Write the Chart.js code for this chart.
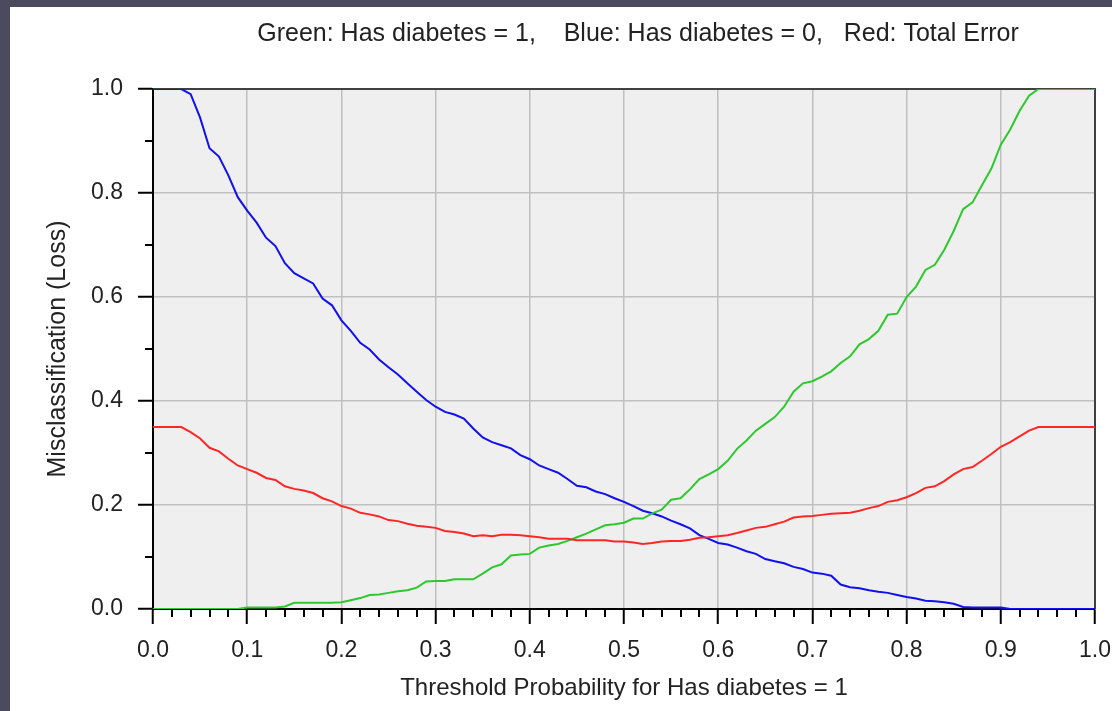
<!DOCTYPE html>
<html>
<head>
<meta charset="utf-8">
<script src="https://cdn.jsdelivr.net/npm/chart.js@4/dist/chart.umd.min.js"></script>
<style>
  html, body { margin: 0; padding: 0; background: #4b4b5d; }
  #wrap { position: absolute; left: 10px; top: 7px; width: 1102px; height: 704px; background: #ffffff; }
</style>
</head>
<body>
<div id="wrap"><canvas id="chart" width="1102" height="704"></canvas></div>
<script>
const thresholds = [
  0.00, 0.01, 0.02, 0.03, 0.04, 0.05, 0.06, 0.07, 0.08, 0.09,
  0.10, 0.11, 0.12, 0.13, 0.14, 0.15, 0.16, 0.17, 0.18, 0.19,
  0.20, 0.21, 0.22, 0.23, 0.24, 0.25, 0.26, 0.27, 0.28, 0.29,
  0.30, 0.31, 0.32, 0.33, 0.34, 0.35, 0.36, 0.37, 0.38, 0.39,
  0.40, 0.41, 0.42, 0.43, 0.44, 0.45, 0.46, 0.47, 0.48, 0.49,
  0.50, 0.51, 0.52, 0.53, 0.54, 0.55, 0.56, 0.57, 0.58, 0.59,
  0.60, 0.61, 0.62, 0.63, 0.64, 0.65, 0.66, 0.67, 0.68, 0.69,
  0.70, 0.71, 0.72, 0.73, 0.74, 0.75, 0.76, 0.77, 0.78, 0.79,
  0.80, 0.81, 0.82, 0.83, 0.84, 0.85, 0.86, 0.87, 0.88, 0.89,
  0.90, 0.91, 0.92, 0.93, 0.94, 0.95, 0.96, 0.97, 0.98, 0.99,
  1.00
];

// misclassification of Has diabetes = 1
const greenLoss = [
  0, 0, 0, 0, 0, 0, 0, 0, 0, 0,
  0.003, 0.003, 0.003, 0.003, 0.005, 0.012, 0.012, 0.012, 0.012, 0.012,
  0.013, 0.017, 0.021, 0.027, 0.028, 0.031, 0.034, 0.036, 0.041, 0.053,
  0.054, 0.054, 0.057, 0.057, 0.057, 0.068, 0.080, 0.086, 0.103, 0.105,
  0.106, 0.118, 0.122, 0.125, 0.131, 0.138, 0.145, 0.153, 0.161, 0.163,
  0.166, 0.174, 0.174, 0.184, 0.191, 0.210, 0.213, 0.230, 0.250, 0.259,
  0.269, 0.285, 0.308, 0.324, 0.343, 0.356, 0.369, 0.389, 0.418, 0.434,
  0.438, 0.447, 0.457, 0.473, 0.486, 0.509, 0.519, 0.535, 0.566, 0.568,
  0.600, 0.620, 0.652, 0.662, 0.691, 0.727, 0.769, 0.782, 0.815, 0.847,
  0.893, 0.922, 0.958, 0.987, 1, 1, 1, 1, 1, 1,
  1
];

// misclassification of Has diabetes = 0
const blueLoss = [
  1, 1, 1, 1, 0.990, 0.945, 0.886, 0.870, 0.834, 0.792,
  0.766, 0.743, 0.714, 0.698, 0.665, 0.646, 0.636, 0.626, 0.597, 0.584,
  0.555, 0.535, 0.512, 0.499, 0.480, 0.465, 0.451, 0.434, 0.418, 0.402,
  0.389, 0.379, 0.374, 0.366, 0.347, 0.330, 0.321, 0.315, 0.309, 0.296,
  0.288, 0.276, 0.269, 0.262, 0.250, 0.237, 0.234, 0.226, 0.221, 0.213,
  0.206, 0.198, 0.189, 0.184, 0.178, 0.170, 0.163, 0.155, 0.142, 0.135,
  0.127, 0.124, 0.118, 0.111, 0.106, 0.096, 0.092, 0.088, 0.081, 0.077,
  0.070, 0.068, 0.064, 0.047, 0.042, 0.040, 0.036, 0.033, 0.031, 0.027,
  0.023, 0.020, 0.016, 0.015, 0.013, 0.010, 0.004, 0.003, 0.003, 0.003,
  0.003, 0, 0, 0, 0, 0, 0, 0, 0, 0,
  0
];

// total error
const redLoss = [
  0.350, 0.350, 0.350, 0.350, 0.340, 0.328, 0.310, 0.303, 0.289, 0.276,
  0.269, 0.262, 0.252, 0.248, 0.236, 0.231, 0.228, 0.223, 0.213, 0.207,
  0.198, 0.193, 0.185, 0.182, 0.178, 0.171, 0.169, 0.164, 0.160, 0.158,
  0.156, 0.150, 0.148, 0.145, 0.140, 0.142, 0.140, 0.143, 0.143, 0.142,
  0.140, 0.138, 0.135, 0.135, 0.135, 0.132, 0.132, 0.132, 0.132, 0.130,
  0.130, 0.128, 0.125, 0.127, 0.130, 0.131, 0.131, 0.133, 0.137, 0.138,
  0.140, 0.142, 0.146, 0.151, 0.156, 0.158, 0.163, 0.168, 0.176, 0.178,
  0.179, 0.181, 0.183, 0.184, 0.185, 0.189, 0.194, 0.198, 0.206, 0.209,
  0.215, 0.223, 0.233, 0.236, 0.246, 0.259, 0.269, 0.273, 0.285, 0.298,
  0.312, 0.321, 0.332, 0.343, 0.350, 0.350, 0.350, 0.350, 0.350, 0.350,
  0.350
];

const titleText = "Green: Has diabetes = 1,    Blue: Has diabetes = 0,   Red: Total Error";
const xTitle = "Threshold Probability for Has diabetes = 1";
const yTitle = "Misclassification (Loss)";

const FONT = "'Liberation Sans', Arial, sans-serif";

function toPoints(values) {
  return thresholds.map((t, i) => ({ x: t, y: values[i] }));
}

// plot background, frame, minor ticks and the title line
const framePlugin = {
  id: "frame",
  beforeDraw(chart) {
    const { ctx, chartArea: a } = chart;
    ctx.save();
    ctx.fillStyle = "#ffffff";
    ctx.fillRect(0, 0, chart.width, chart.height);
    ctx.fillStyle = "#efefef";
    ctx.fillRect(a.left, a.top, a.right - a.left, a.bottom - a.top);
    ctx.restore();
  },
  beforeDatasetsDraw(chart) {
    const { ctx, chartArea: a, scales } = chart;
    ctx.save();
    ctx.strokeStyle = "#404040";
    ctx.lineWidth = 2;
    ctx.beginPath();
    ctx.moveTo(a.left, a.top);
    ctx.lineTo(a.right, a.top);
    ctx.lineTo(a.right, a.bottom);
    ctx.stroke();

    ctx.strokeStyle = "#000000";
    ctx.lineWidth = 2;
    ctx.beginPath();
    for (let k = 1; k < 50; k++) {
      if (k % 5 === 0) continue;
      const px = Math.round(scales.x.getPixelForValue(k / 50));
      ctx.moveTo(px, a.bottom);
      ctx.lineTo(px, a.bottom + 8);
    }
    for (let k = 1; k < 10; k += 2) {
      const py = Math.round(scales.y.getPixelForValue(k / 10));
      ctx.moveTo(a.left, py);
      ctx.lineTo(a.left - 8, py);
    }
    ctx.stroke();

    ctx.fillStyle = "#222222";
    ctx.font = "25px " + FONT;
    ctx.textAlign = "center";
    ctx.textBaseline = "middle";
    ctx.fillText(titleText, (a.left + a.right) / 2 + 14, 27);
    ctx.restore();
  },
};

new Chart(document.getElementById("chart"), {
  type: "line",
  data: {
    datasets: [
      { label: "Red", data: toPoints(redLoss), borderColor: "#ff2626", borderWidth: 2 },
      { label: "Green", data: toPoints(greenLoss), borderColor: "#2ec82e", borderWidth: 2 },
      { label: "Blue", data: toPoints(blueLoss), borderColor: "#1010f0", borderWidth: 2 },
    ],
  },
  options: {
    responsive: false,
    animation: false,
    events: [],
    layout: { padding: { top: 82, right: 17, left: 0, bottom: 0 } },
    elements: { point: { radius: 0 }, line: { tension: 0 } },
    plugins: {
      legend: { display: false },
      tooltip: { enabled: false },
    },
    scales: {
      x: {
        type: "linear",
        min: 0,
        max: 1,
        afterFit(scale) {
          scale.height = 102;
          scale.paddingLeft = 0;
          scale.paddingRight = 0;
        },
        grid: { color: "#c0c0c0", lineWidth: 1.5, tickColor: "#000000", tickLength: 15, tickWidth: 2 },
        border: { color: "#000000", width: 2 },
        ticks: {
          stepSize: 0.1,
          autoSkip: false,
          maxRotation: 0,
          padding: 13,
          color: "#222222",
          font: { family: FONT, size: 23 },
          callback: (v) => Number(v).toFixed(1),
        },
        title: {
          display: true,
          text: xTitle,
          color: "#222222",
          font: { family: FONT, size: 24 },
          padding: { top: 0, bottom: 8 },
        },
      },
      y: {
        min: 0,
        max: 1,
        afterFit(scale) {
          scale.width = 143;
          scale.paddingTop = 0;
          scale.paddingBottom = 0;
        },
        grid: { color: "#c0c0c0", lineWidth: 1.5, tickColor: "#000000", tickLength: 15, tickWidth: 2 },
        border: { color: "#000000", width: 2 },
        ticks: {
          stepSize: 0.2,
          padding: 15,
          color: "#222222",
          font: { family: FONT, size: 23 },
          callback: (v) => Number(v).toFixed(1),
        },
        title: {
          display: true,
          text: yTitle,
          color: "#222222",
          font: { family: FONT, size: 25 },
          padding: { top: 33, bottom: 0 },
        },
      },
    },
  },
  plugins: [framePlugin],
});
</script>
</body>
</html>
